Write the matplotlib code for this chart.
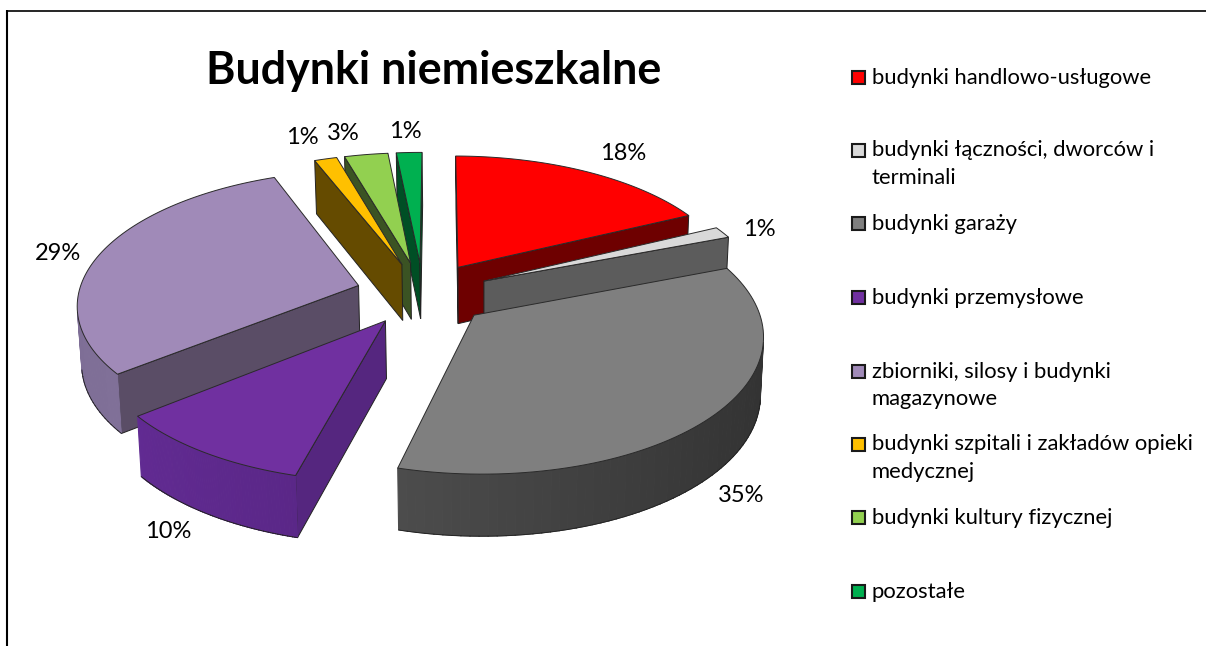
import matplotlib
matplotlib.use("Agg")
import matplotlib.pyplot as plt
import numpy as np

plt.rcParams['font.family'] = ['Lato', 'DejaVu Sans']

# dane (udzial w %)
kategorie = ["budynki handlowo-usługowe", "budynki łączności, dworców i\nterminali", "budynki garaży",
             "budynki przemysłowe", "zbiorniki, silosy i budynki\nmagazynowe",
             "budynki szpitali i zakładów opieki\nmedycznej", "budynki kultury fizycznej", "pozostałe"]
udzialy = [17.7, 1.4, 34.9, 10.1, 29.8, 1.5, 2.9, 1.7]
etykiety = ["18%", "1%", "35%", "10%", "29%", "1%", "3%", "1%"]

# kolory
kolory = ["#FF0000", "#D9D9D9", "#7F7F7F", "#7030A0", "#A08AB8", "#FFC000", "#92D050", "#00B050"]
sciany = ["#6E0000", "#5C5C5C", "#595959", "#55267F", "#5A4D66", "#654B00", "#3B5323", "#004F25"]
luk_lewy = ["#7A0000", "#A0A0A0", "#5C5C5C", "#642C96", "#7E6E96", "#8A6A00", "#4F6B2B", "#006030"]
luk_prawy = ["#7A0000", "#A0A0A0", "#323232", "#4A1F70", "#8F7FA8", "#8A6A00", "#4F6B2B", "#006030"]

# polozenia tekstow na rysunku
pos_etykiet = [(623, 154), (759, 230), (741, 495), (168, 532), (58, 253), (302, 138), (343, 134), (405, 132)]
pos_legendy = [77, 150, 223, 297, 371, 444, 517, 591]

# geometria "3D"
CX, CY = 423, 293.5
R = 280
TILT = 0.472
PERSP = 0.13
EXPLODE = 0.24
H = 57
START = 0.4


def rzut(x, y, z=0.0):
    # rzut punktu z plaszczyzny kola na ekran
    w = 1 / (1 + PERSP * y)
    sx = CX + R * x * w
    sy = CY - R * TILT * y * w
    if z:
        sy = sy + H * z * (0.5 + 0.5 * w)
        sx = 480 + (sx - 480) * 0.989
    return np.column_stack([sx, sy])


def pole(p):
    x, y = p[:, 0], p[:, 1]
    return 0.5 * np.sum(x * np.roll(y, -1) - np.roll(x, -1) * y)


def mieszaj(c1, c2, t):
    a = np.array(matplotlib.colors.to_rgb(c1))
    b = np.array(matplotlib.colors.to_rgb(c2))
    return tuple(a + (b - a) * t)


def rysuj_wycinek(ax, a0, a1, i):
    mid = np.radians((a0 + a1) / 2)
    ox, oy = EXPLODE * np.sin(mid), EXPLODE * np.cos(mid)
    kat = np.radians(np.linspace(a0, a1, 80))
    ax_x = ox + np.sin(kat)
    ax_y = oy + np.cos(kat)

    top = rzut(ax_x, ax_y)
    dol = rzut(ax_x, ax_y, 1.0)
    apex_t = rzut(np.array([ox]), np.array([oy]))
    apex_d = rzut(np.array([ox]), np.array([oy]), 1.0)

    # sciany ciecia (pierwsza ma odwrotna orientacje niz druga)
    for n, k in enumerate((0, -1)):
        quad = np.array([apex_t[0], top[k], dol[k], apex_d[0]])
        znak = pole(quad) if n == 0 else -pole(quad)
        if znak < 0:
            ax.fill(quad[:, 0], quad[:, 1], fc=sciany[i], ec="#222222", lw=0.7, zorder=i_z[i])

    # sciana luku z gradientem
    for k in range(len(kat) - 1):
        quad = np.array([top[k], top[k + 1], dol[k + 1], dol[k]])
        if pole(quad) > 0:
            continue
        t = (np.sin(kat[k]) + 1) / 2
        c = mieszaj(luk_lewy[i], luk_prawy[i], t)
        ax.fill(quad[:, 0], quad[:, 1], fc=c, ec=c, lw=0.8, zorder=i_z[i])
    for k in range(len(kat) - 1):
        if pole(np.array([top[k], top[k + 1], dol[k + 1], dol[k]])) < 0:
            ax.plot(dol[k:k + 2, 0], dol[k:k + 2, 1], color="#222222", lw=0.6, zorder=i_z[i])

    # gorna powierzchnia
    p = np.vstack([apex_t, top])
    ax.fill(p[:, 0], p[:, 1], fc=kolory[i], ec="#2a2a2a", lw=0.7, zorder=i_z[i], joinstyle="round")


# kolejnosc rysowania: od tylu do przodu
i_z = [3, 4, 5, 6, 2, 1.3, 1.2, 1.1]

fig = plt.figure(figsize=(12.06, 6.46), dpi=100)
ax = fig.add_axes([0, 0, 1, 1])
ax.set_xlim(0, 1206)
ax.set_ylim(646, 0)
ax.axis("off")

# ramka wykresu
ax.plot([6, 1206], [10.8, 10.8], color="black", lw=1.2, solid_capstyle="butt")
ax.plot([7, 7], [10, 646], color="black", lw=1.5, solid_capstyle="butt")

suma = sum(udzialy)
kat0 = START
for i, u in enumerate(udzialy):
    kat1 = kat0 + u / suma * 360
    rysuj_wycinek(ax, kat0, kat1, i)
    kat0 = kat1

ax.text(434, 71, "Budynki niemieszkalne", fontsize=32.2, fontweight="bold", ha="center", va="center")

for et, (x, y) in zip(etykiety, pos_etykiet):
    ax.text(x, y, et, fontsize=17, ha="center", va="center", color="black")

# legenda
for naz, c, y in zip(kategorie, kolory, pos_legendy):
    ax.add_patch(plt.Rectangle((852, y - 6.5), 13, 13, fc=c, ec="#1a1a1a", lw=1.5))
    ax.text(871.5, y - 9.5, naz, fontsize=15.85, ha="left", va="top", linespacing=1.49, color="black")

fig.savefig("out.png", dpi=100)
